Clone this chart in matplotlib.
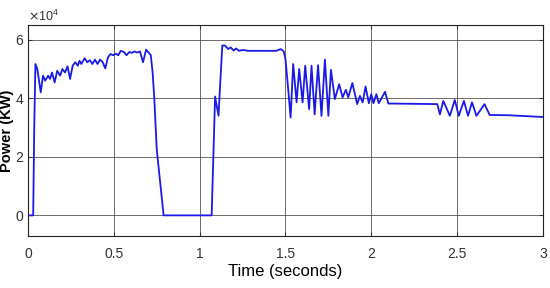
import matplotlib

matplotlib.use("Agg")
import matplotlib.pyplot as plt
from matplotlib.ticker import ScalarFormatter
import numpy as np

# time (s) and power (units of 1e4 kW)
TIME = [
    0.0, 0.030, 0.036, 0.043, 0.054, 0.074, 0.087, 0.100, 0.117, 0.128,
    0.140, 0.155, 0.170, 0.187, 0.200, 0.215, 0.230, 0.245, 0.260, 0.275,
    0.290, 0.300, 0.310, 0.330, 0.345, 0.360, 0.375, 0.390, 0.405, 0.420,
    0.435, 0.450, 0.466, 0.480, 0.497, 0.512, 0.526, 0.540, 0.558, 0.574,
    0.590, 0.605, 0.620, 0.637, 0.652, 0.670, 0.688, 0.700, 0.715, 0.726,
    0.736, 0.750, 0.790, 1.070, 1.090, 1.110, 1.118, 1.132, 1.147, 1.167,
    1.180, 1.198, 1.213, 1.229, 1.252, 1.281, 1.340, 1.398, 1.446, 1.472,
    1.490, 1.500, 1.516, 1.530, 1.545, 1.565, 1.580, 1.600, 1.615, 1.638,
    1.652, 1.670, 1.690, 1.710, 1.730, 1.750, 1.765, 1.788, 1.813, 1.833,
    1.852, 1.866, 1.890, 1.918, 1.934, 1.950, 1.967, 1.986, 2.000, 2.013,
    2.030, 2.044, 2.080, 2.100, 2.250, 2.385, 2.400, 2.420, 2.458, 2.487,
    2.510, 2.540, 2.564, 2.587, 2.613, 2.660, 2.690, 2.800, 3.000,
]
POWER = [
    0.0, 0.0, 3.0, 5.17, 5.00, 4.20, 4.77, 4.60, 4.77, 4.66,
    4.88, 4.54, 4.94, 4.77, 5.00, 4.88, 5.09, 4.66, 5.11, 5.23,
    5.11, 5.28, 5.17, 5.37, 5.23, 5.30, 5.17, 5.32, 5.17, 5.32,
    5.23, 5.02, 5.40, 5.51, 5.47, 5.52, 5.47, 5.62, 5.58, 5.47,
    5.58, 5.55, 5.60, 5.56, 5.60, 5.23, 5.66, 5.58, 5.48, 4.88,
    3.97, 2.25, 0.0, 0.0, 4.06, 3.40, 4.31, 5.80, 5.80, 5.68,
    5.74, 5.63, 5.70, 5.62, 5.65, 5.62, 5.62, 5.62, 5.62, 5.68,
    5.60, 5.34, 4.31, 3.34, 5.17, 3.86, 5.00, 3.86, 5.11, 3.63,
    5.11, 3.45, 5.13, 3.40, 5.32, 3.40, 4.97, 3.97, 4.48, 4.03,
    4.29, 4.03, 4.52, 3.80, 4.08, 3.86, 4.40, 3.83, 4.14, 3.83,
    4.14, 3.83, 4.22, 3.82, 3.81, 3.80, 3.45, 3.91, 3.40, 3.94,
    3.40, 3.91, 3.40, 3.86, 3.40, 3.80, 3.43, 3.42, 3.36,
]

X_TICKS = [0, 0.5, 1, 1.5, 2, 2.5, 3]
Y_TICKS = [0, 20000, 40000, 60000]

plt.rcParams["font.family"] = ["Liberation Sans Narrow", "Liberation Sans", "DejaVu Sans"]

fig = plt.figure(figsize=(5.5, 2.88), dpi=100)
ax = fig.add_axes([0.051, 0.181, 0.936, 0.732])

ax.plot(TIME, np.array(POWER) * 1e4, color="#1a1ae6", linewidth=1.3)

ax.set_xlim(0, 3)
ax.set_ylim(-7000, 65000)
ax.set_xticks(X_TICKS)
ax.set_xticklabels(["0", "0.5", "1", "1.5", "2", "2.5", "3"])
ax.set_yticks(Y_TICKS)

fmt = ScalarFormatter(useMathText=True)
fmt.set_powerlimits((0, 0))
ax.yaxis.set_major_formatter(fmt)
ax.yaxis.get_offset_text().set_fontsize(9)
ax.yaxis.get_offset_text().set_color("#444444")

ax.grid(True, color="#555555", linewidth=0.6)
ax.tick_params(direction="in", top=True, right=True, length=3,
               labelsize=10, colors="#333333")
ax.tick_params(axis="x", pad=8)
ax.tick_params(axis="y", pad=2.5)
for s in ax.spines.values():
    s.set_linewidth(0.8)
    s.set_color("#222222")

ax.set_xlabel("Time (seconds)", fontsize=12, labelpad=2)
ax.set_ylabel("Power (KW)", fontsize=10.5, fontweight="bold",
              family=["Liberation Sans", "DejaVu Sans"])
ax.yaxis.set_label_coords(-0.027, 0.5)

fig.savefig("out.png", dpi=100)
